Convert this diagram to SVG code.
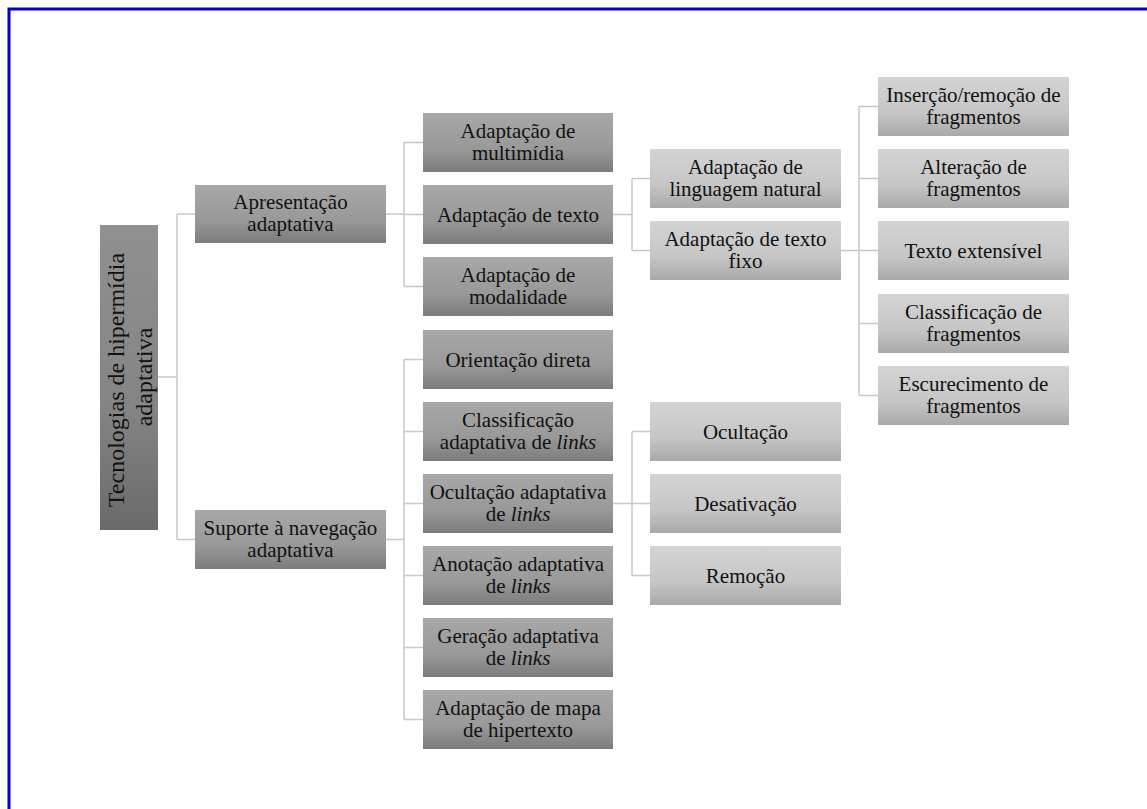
<svg xmlns="http://www.w3.org/2000/svg" width="1147" height="809" viewBox="0 0 1147 809">
  <defs>
    <linearGradient id="gRoot" x1="0" y1="0" x2="0" y2="1">
      <stop offset="0" stop-color="#909090"/>
      <stop offset="0.6" stop-color="#848484"/>
      <stop offset="1" stop-color="#6a6a6a"/>
    </linearGradient>
    <linearGradient id="gMid" x1="0" y1="0" x2="0" y2="1">
      <stop offset="0" stop-color="#a8a8a8"/>
      <stop offset="0.6" stop-color="#999999"/>
      <stop offset="1" stop-color="#7c7c7c"/>
    </linearGradient>
    <linearGradient id="gLight" x1="0" y1="0" x2="0" y2="1">
      <stop offset="0" stop-color="#d4d4d4"/>
      <stop offset="0.6" stop-color="#c6c6c6"/>
      <stop offset="1" stop-color="#a9a9a9"/>
    </linearGradient>
  </defs>
  <style>
    .frame { fill: none; stroke: #0000d0; stroke-width: 3; }
    .root { fill: url(#gRoot); }
    .mid { fill: url(#gMid); }
    .light { fill: url(#gLight); }
    .lbl { font-family: "Liberation Serif", "Times New Roman", serif; font-size: 21px; fill: #111; text-anchor: middle; }
    .rootlbl { font-size: 24px; }
    .em { font-style: italic; }
    #connectors path { fill: none; stroke: #c8c8c8; stroke-width: 1.5; }
  </style>

  <rect width="1147" height="809" fill="#ffffff"/>
  <rect class="frame" x="9" y="9" width="1200" height="900"/>

  <g id="connectors">
    <path d="M158 377 H177 M177 214 V539.5 M177 214 H195 M177 539.5 H195"/>
    <path d="M386 214 H404 M404 142.5 V286.5 M404 142.5 H423 M404 214.5 H423 M404 286.5 H423"/>
    <path d="M386 539.5 H404 M404 359.5 V719.5 M404 359.5 H423 M404 431.5 H423 M404 503.5 H423 M404 575.5 H423 M404 647.5 H423 M404 719.5 H423"/>
    <path d="M613 214.5 H632 M632 178.5 V250.5 M632 178.5 H650 M632 250.5 H650"/>
    <path d="M613 503.5 H632 M632 431.5 V575.5 M632 431.5 H650 M632 503.5 H650 M632 575.5 H650"/>
    <path d="M841 250.5 H859 M859 106.5 V395.5 M859 106.5 H878 M859 178.5 H878 M859 250.5 H878 M859 323.5 H878 M859 395.5 H878"/>
  </g>

  <g id="n-root">
    <rect class="root" x="100" y="225" width="58" height="305"/>
    <text class="lbl rootlbl" transform="rotate(-90 129 377)">
      <tspan x="129" y="372">Tecnologias de hipermídia</tspan>
      <tspan x="129" y="400">adaptativa</tspan>
    </text>
  </g>

  <g id="n-apresentacao">
    <rect class="mid" x="195" y="185" width="191" height="58"/>
    <text class="lbl"><tspan x="290.5" y="209">Apresentação</tspan><tspan x="290.5" y="231">adaptativa</tspan></text>
  </g>
  <g id="n-suporte">
    <rect class="mid" x="195" y="510" width="191" height="59"/>
    <text class="lbl"><tspan x="290.5" y="534.5">Suporte à navegação</tspan><tspan x="290.5" y="556.5">adaptativa</tspan></text>
  </g>

  <g id="n-multimidia">
    <rect class="mid" x="423" y="113" width="190" height="59"/>
    <text class="lbl"><tspan x="518" y="137.5">Adaptação de</tspan><tspan x="518" y="159.5">multimídia</tspan></text>
  </g>
  <g id="n-texto">
    <rect class="mid" x="423" y="185" width="190" height="59"/>
    <text class="lbl" x="518" y="221.5">Adaptação de texto</text>
  </g>
  <g id="n-modalidade">
    <rect class="mid" x="423" y="257" width="190" height="59"/>
    <text class="lbl"><tspan x="518" y="281.5">Adaptação de</tspan><tspan x="518" y="303.5">modalidade</tspan></text>
  </g>

  <g id="n-orientacao">
    <rect class="mid" x="423" y="330" width="190" height="59"/>
    <text class="lbl" x="518" y="366.5">Orientação direta</text>
  </g>
  <g id="n-classificacao-links">
    <rect class="mid" x="423" y="402" width="190" height="59"/>
    <text class="lbl"><tspan x="518" y="426.5">Classificação</tspan><tspan x="518" y="448.5">adaptativa de <tspan class="em">links</tspan></tspan></text>
  </g>
  <g id="n-ocultacao-links">
    <rect class="mid" x="423" y="474" width="190" height="59"/>
    <text class="lbl"><tspan x="518" y="498.5">Ocultação adaptativa</tspan><tspan x="518" y="520.5">de <tspan class="em">links</tspan></tspan></text>
  </g>
  <g id="n-anotacao-links">
    <rect class="mid" x="423" y="546" width="190" height="59"/>
    <text class="lbl"><tspan x="518" y="570.5">Anotação adaptativa</tspan><tspan x="518" y="592.5">de <tspan class="em">links</tspan></tspan></text>
  </g>
  <g id="n-geracao-links">
    <rect class="mid" x="423" y="618" width="190" height="59"/>
    <text class="lbl"><tspan x="518" y="642.5">Geração adaptativa</tspan><tspan x="518" y="664.5">de <tspan class="em">links</tspan></tspan></text>
  </g>
  <g id="n-mapa">
    <rect class="mid" x="423" y="690" width="190" height="59"/>
    <text class="lbl"><tspan x="518" y="714.5">Adaptação de mapa</tspan><tspan x="518" y="736.5">de hipertexto</tspan></text>
  </g>

  <g id="n-linguagem">
    <rect class="light" x="650" y="149" width="191" height="59"/>
    <text class="lbl"><tspan x="745.5" y="173.5">Adaptação de</tspan><tspan x="745.5" y="195.5">linguagem natural</tspan></text>
  </g>
  <g id="n-texto-fixo">
    <rect class="light" x="650" y="221" width="191" height="59"/>
    <text class="lbl"><tspan x="745.5" y="245.5">Adaptação de texto</tspan><tspan x="745.5" y="267.5">fixo</tspan></text>
  </g>

  <g id="n-ocultacao">
    <rect class="light" x="650" y="402" width="191" height="59"/>
    <text class="lbl" x="745.5" y="438.5">Ocultação</text>
  </g>
  <g id="n-desativacao">
    <rect class="light" x="650" y="474" width="191" height="59"/>
    <text class="lbl" x="745.5" y="510.5">Desativação</text>
  </g>
  <g id="n-remocao">
    <rect class="light" x="650" y="546" width="191" height="59"/>
    <text class="lbl" x="745.5" y="582.5">Remoção</text>
  </g>

  <g id="n-insercao">
    <rect class="light" x="878" y="77" width="191" height="59"/>
    <text class="lbl"><tspan x="973.5" y="101.5">Inserção/remoção de</tspan><tspan x="973.5" y="123.5">fragmentos</tspan></text>
  </g>
  <g id="n-alteracao">
    <rect class="light" x="878" y="149" width="191" height="59"/>
    <text class="lbl"><tspan x="973.5" y="173.5">Alteração de</tspan><tspan x="973.5" y="195.5">fragmentos</tspan></text>
  </g>
  <g id="n-extensivel">
    <rect class="light" x="878" y="221" width="191" height="59"/>
    <text class="lbl" x="973.5" y="257.5">Texto extensível</text>
  </g>
  <g id="n-classificacao-frag">
    <rect class="light" x="878" y="294" width="191" height="59"/>
    <text class="lbl"><tspan x="973.5" y="318.5">Classificação de</tspan><tspan x="973.5" y="340.5">fragmentos</tspan></text>
  </g>
  <g id="n-escurecimento">
    <rect class="light" x="878" y="366" width="191" height="59"/>
    <text class="lbl"><tspan x="973.5" y="390.5">Escurecimento de</tspan><tspan x="973.5" y="412.5">fragmentos</tspan></text>
  </g>
</svg>
